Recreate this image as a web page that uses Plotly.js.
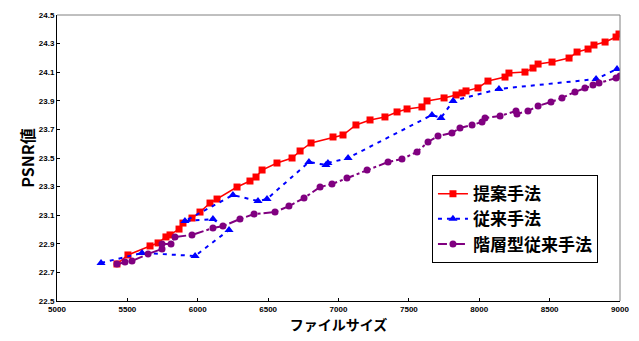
<!DOCTYPE html>
<html><head><meta charset="utf-8">
<script src="https://cdn.plot.ly/plotly-3.0.1.min.js"></script>
<style>html,body{margin:0;padding:0;background:#fff;}#chart{width:639px;height:341px;}</style>
</head><body><div id="chart"></div>
<script>
// 提案手法
const propX = [5426,5504,5661,5718,5774,5803,5867,5895,5959,6016,6087,6137,6279,6371,6414,6457,6563,6670,6727,6805,6961,7032,7124,7224,7330,7416,7487,7593,7629,7750,7835,7878,7906,7991,8062,8183,8211,8325,8382,8418,8517,8638,8695,8773,8815,8894,8972,8993];
const propY = [22.759,22.822,22.885,22.906,22.948,22.962,23.003,23.045,23.080,23.122,23.185,23.213,23.297,23.339,23.367,23.416,23.465,23.500,23.549,23.605,23.647,23.661,23.731,23.766,23.787,23.822,23.843,23.857,23.899,23.920,23.941,23.955,23.969,23.990,24.038,24.066,24.094,24.101,24.129,24.157,24.171,24.199,24.241,24.262,24.290,24.311,24.346,24.367];
// 従来手法
const convX = [5313,5604,5981,6222,6108,5909,6250,6428,6492,6790,6911,6925,7068,7664,7728,7814,8140,8830,8979];
const convY = [22.766,22.836,22.815,22.997,23.073,23.059,23.241,23.199,23.213,23.472,23.451,23.465,23.500,23.801,23.780,23.899,23.983,24.052,24.122];
// 階層型従来手法
const hierX = [5426,5483,5533,5647,5746,5746,5810,5838,5959,6108,6179,6300,6400,6549,6648,6755,6869,6954,7060,7203,7352,7451,7558,7636,7707,7806,7863,7949,8020,8041,8148,8261,8268,8346,8418,8510,8588,8680,8751,8808,8851,8972,9000];
const hierY = [22.759,22.773,22.780,22.829,22.864,22.899,22.899,22.948,22.962,23.010,23.024,23.073,23.108,23.122,23.164,23.220,23.297,23.318,23.360,23.416,23.472,23.493,23.542,23.612,23.654,23.675,23.710,23.731,23.752,23.780,23.794,23.829,23.808,23.829,23.864,23.892,23.920,23.962,23.990,24.011,24.024,24.059,24.073];

const seriesNames = ['提案手法','従来手法','階層型従来手法'];
const xTicks = [5000,5500,6000,6500,7000,7500,8000,8500,9000];
const yTicks = [22.5,22.7,22.9,23.1,23.3,23.5,23.7,23.9,24.1,24.3,24.5];

const traces = [
  {x: propX, y: propY, name: seriesNames[0], type:'scatter', mode:'lines+markers',
   line:{color:'#ff0000', width:1.5}, marker:{symbol:'square', size:7, color:'#ff0000'}},
  {x: convX, y: convY, name: seriesNames[1], type:'scatter', mode:'lines+markers',
   line:{color:'#0000ff', width:2, dash:'4px,5px'}, marker:{symbol:'triangle-up', size:8, color:'#0000ff'}},
  {x: hierX, y: hierY, name: seriesNames[2], type:'scatter', mode:'lines+markers',
   line:{color:'#800080', width:2, dash:'dashdot'}, marker:{symbol:'circle', size:7, color:'#800080'}}
];

const tickFont = {family:'Liberation Sans, Arial, sans-serif', size:8, color:'#000', weight:'bold'};
const layout = {
  width:639, height:341,
  margin:{l:57, r:19, t:15, b:40},
  paper_bgcolor:'#fff', plot_bgcolor:'#fff',
  showlegend:true,
  legend:{x:0.666, y:0.44, xanchor:'left', yanchor:'top', bgcolor:'#fff', bordercolor:'#000', borderwidth:1,
    font:{family:'Noto Sans CJK JP, sans-serif', size:17, color:'#000', weight:'bold'}, tracegroupgap:0},
  xaxis:{range:[5000,9000], tickvals:xTicks, ticktext:xTicks.map(String), showgrid:false, zeroline:false,
    showline:true, linecolor:'#000', linewidth:1, ticks:'inside', ticklen:3, tickcolor:'#000',
    tickfont:tickFont,
    title:{text:'ファイルサイズ', font:{family:'Noto Sans CJK JP, sans-serif', size:14, color:'#000', weight:'bold'}, standoff:4}},
  yaxis:{range:[22.5,24.5], tickvals:yTicks, ticktext:yTicks.map(v=>v.toFixed(1)), showgrid:false, zeroline:false,
    showline:true, linecolor:'#000', linewidth:1, ticks:'inside', ticklen:3, tickcolor:'#000',
    tickfont:tickFont,
    title:{text:'PSNR値', font:{family:'Noto Sans CJK JP, sans-serif', size:16, color:'#000', weight:'bold'}, standoff:0}},
  shapes:[
    {type:'line', xref:'paper', yref:'paper', x0:0, x1:1, y0:1, y1:1, line:{color:'#808080', width:1}},
    {type:'line', xref:'paper', yref:'paper', x0:1, x1:1, y0:0, y1:1, line:{color:'#808080', width:1}}
  ]
};
Plotly.newPlot('chart', traces, layout, {displayModeBar:false, staticPlot:true});
</script></body></html>
